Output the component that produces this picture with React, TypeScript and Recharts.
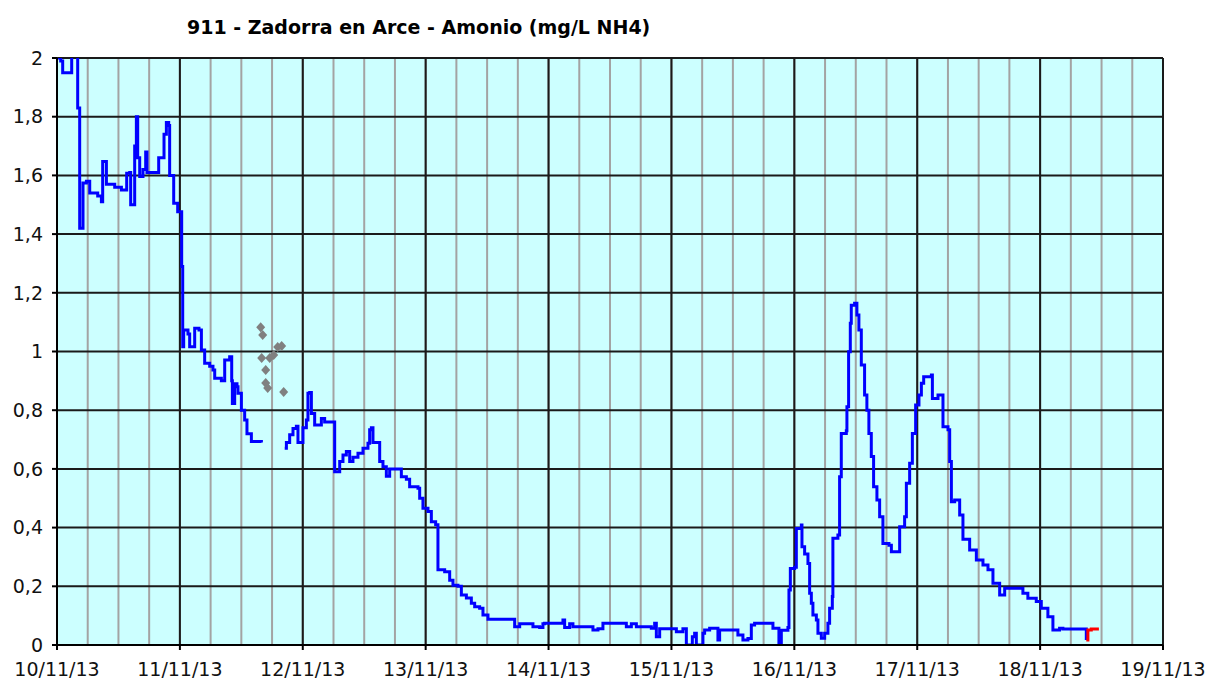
import React from "react";
import {
  ComposedChart,
  Line,
  Scatter,
  XAxis,
  YAxis,
  CartesianGrid,
} from "recharts";

// hours since 10/11/13 00:00
const dayTicks = [0, 24, 48, 72, 96, 120, 144, 168, 192, 216];
const dayLabels = [
  "10/11/13",
  "11/11/13",
  "12/11/13",
  "13/11/13",
  "14/11/13",
  "15/11/13",
  "16/11/13",
  "17/11/13",
  "18/11/13",
  "19/11/13",
];
const valueTicks = [0, 0.2, 0.4, 0.6, 0.8, 1, 1.2, 1.4, 1.6, 1.8, 2];
// 6-hourly grid
const quarterDayTicks = [
  0, 6, 12, 18, 24, 30, 36, 42, 48, 54, 60, 66, 72, 78, 84, 90, 96, 102, 108,
  114, 120, 126, 132, 138, 144, 150, 156, 162, 168, 174, 180, 186, 192, 198,
  204, 210, 216,
];

// [hour, mg/L NH4]
const ammoniumFirst: [number, number][] = [
  [0.0, 2.0], [0.33, 2.01], [0.72, 1.99], [1.11, 1.95], [2.68, 1.95],
  [2.87, 2.3], [3.94, 2.3], [4.04, 1.83], [4.24, 1.83], [4.43, 1.42],
  [4.63, 1.42], [5.08, 1.574], [5.74, 1.58], [6.39, 1.54], [7.36, 1.54],
  [7.95, 1.53], [8.67, 1.51], [8.92, 1.647], [9.45, 1.647], [9.65, 1.57],
  [11.27, 1.56], [12.58, 1.55], [13.61, 1.607], [14.2, 1.61], [14.39, 1.5],
  [14.78, 1.5], [15.17, 1.7], [15.5, 1.8], [15.76, 1.66], [16.15, 1.596],
  [16.48, 1.596], [16.79, 1.62], [17.32, 1.68], [17.57, 1.61], [19.41, 1.61],
  [19.86, 1.66], [20.64, 1.66], [20.9, 1.74], [21.36, 1.78], [21.81, 1.77],
  [22.0, 1.6], [22.59, 1.6], [22.79, 1.505], [23.32, 1.505], [23.57, 1.476],
  [24.29, 1.476], [24.35, 1.29], [24.55, 1.016], [24.74, 1.073], [25.33, 1.073],
  [25.58, 1.06], [25.91, 1.016], [26.5, 1.016], [26.89, 1.079], [27.73, 1.073],
  [28.2, 1.005], [28.84, 0.96], [29.82, 0.95], [30.46, 0.937], [30.8, 0.909],
  [32.1, 0.9], [32.75, 0.971], [33.72, 0.982], [34.12, 0.9], [34.25, 0.823],
  [34.7, 0.89], [35.15, 0.88], [35.35, 0.858], [36.01, 0.8], [36.65, 0.767],
  [37.1, 0.72], [37.96, 0.693], [39.92, 0.69],
];

const ammoniumSecond: [number, number][] = [
  [44.47, 0.67], [44.8, 0.69], [45.44, 0.716], [46.09, 0.738], [46.75, 0.745],
  [47.06, 0.69], [47.73, 0.69], [48.04, 0.74], [48.7, 0.767], [49.01, 0.858],
  [49.35, 0.86], [49.68, 0.789], [50.32, 0.75], [51.3, 0.75], [51.63, 0.772],
  [52.27, 0.76], [53.9, 0.76], [54.23, 0.59], [54.87, 0.59], [55.21, 0.625],
  [55.85, 0.647], [56.51, 0.659], [57.16, 0.625], [57.8, 0.64], [58.78, 0.653],
  [59.76, 0.67], [60.73, 0.687], [61.06, 0.733], [61.4, 0.74], [61.71, 0.69],
  [62.69, 0.69], [63.02, 0.625], [63.66, 0.607], [64.32, 0.575], [64.97, 0.6],
  [66.59, 0.6], [67.25, 0.573], [68.23, 0.565], [68.87, 0.539], [70.5, 0.534],
  [70.83, 0.5], [71.47, 0.466], [72.45, 0.455], [73.11, 0.42], [73.95, 0.41],
  [74.4, 0.256], [75.71, 0.25], [76.69, 0.221], [77.33, 0.204], [78.31, 0.2],
  [78.97, 0.17], [79.95, 0.16], [80.92, 0.142], [81.57, 0.13], [82.54, 0.125],
  [83.19, 0.102], [84.17, 0.0875], [88.4, 0.0875], [89.38, 0.062], [90.36, 0.072],
  [92.31, 0.072], [92.95, 0.062], [94.26, 0.06], [94.9, 0.072], [95.23, 0.074],
  [98.5, 0.074], [98.81, 0.085], [99.14, 0.06], [100.12, 0.072], [100.76, 0.062],
  [104.02, 0.062], [104.67, 0.051], [105.65, 0.055], [106.62, 0.074], [110.53, 0.074],
  [111.19, 0.062], [112.17, 0.072], [113.15, 0.062], [116.07, 0.057], [116.72, 0.074],
  [117.05, 0.028], [117.7, 0.055], [120.29, 0.055], [120.96, 0.045], [122.24, 0.055],
  [122.91, 0.0], [123.55, 0.0], [124.08, 0.028], [124.53, 0.04], [124.86, 0.0],
  [125.5, 0.0], [126.15, 0.04], [126.48, 0.051], [127.46, 0.057], [128.77, 0.057],
  [129.08, 0.017], [129.41, 0.051], [132.67, 0.051], [132.98, 0.034], [133.96, 0.017],
  [134.94, 0.022], [135.6, 0.068], [136.24, 0.074], [139.17, 0.074], [139.82, 0.057],
  [140.79, 0.057], [140.99, 0.0], [141.46, 0.05], [142.75, 0.06], [142.95, 0.187],
  [143.22, 0.261], [144.06, 0.265], [144.39, 0.397], [145.37, 0.409], [145.49, 0.335],
  [146.01, 0.31], [146.66, 0.278], [146.99, 0.176], [147.32, 0.142], [147.63, 0.102],
  [148.3, 0.085], [148.61, 0.04], [149.27, 0.023], [149.92, 0.04], [150.56, 0.074],
  [150.89, 0.125], [151.42, 0.165], [151.53, 0.364], [152.51, 0.375], [152.84, 0.573],
  [153.17, 0.721], [154.15, 0.73], [154.27, 0.812], [154.6, 0.999], [154.93, 1.096],
  [155.12, 1.158], [155.77, 1.164], [156.22, 1.124], [156.61, 1.073], [157.08, 0.954],
  [157.72, 0.852], [158.17, 0.8], [158.56, 0.721], [159.03, 0.642], [159.48, 0.539],
  [160.13, 0.494], [160.66, 0.437], [161.3, 0.346], [162.48, 0.34], [162.95, 0.318],
  [164.04, 0.318], [164.57, 0.403], [165.54, 0.437], [165.88, 0.551], [166.52, 0.619],
  [167.05, 0.721], [167.69, 0.818], [168.34, 0.852], [168.81, 0.892], [169.26, 0.914],
  [170.77, 0.92], [170.96, 0.84], [171.74, 0.84], [172.06, 0.852], [172.72, 0.852],
  [173.03, 0.744], [174.01, 0.733], [174.34, 0.625], [174.67, 0.488], [175.31, 0.494],
  [176.29, 0.443], [176.93, 0.36], [178.24, 0.324], [179.55, 0.29], [180.84, 0.273],
  [181.82, 0.256], [182.79, 0.21], [184.1, 0.17], [185.08, 0.193], [187.66, 0.193],
  [188.64, 0.176], [189.61, 0.159], [191.25, 0.148], [192.23, 0.125], [193.52, 0.096],
  [194.5, 0.051], [195.8, 0.057], [196.45, 0.0545], [200.68, 0.0545], [201.02, 0.017],
];

const ammoniumLatest: [number, number][] = [
  [201.02, 0.017], [201.33, 0.051], [201.99, 0.0545], [203.48, 0.0545],
];

const labSamples: [number, number][] = [
  [39.78, 1.083], [40.17, 1.056], [39.97, 0.978], [40.76, 0.937], [40.76, 0.893],
  [41.15, 0.876], [41.54, 0.978], [42.32, 0.988], [43.1, 1.015], [43.88, 1.019],
  [44.27, 0.862],
];

const toRows = (pts: [number, number][]) => pts.map(([h, v]) => ({ h, v }));

const FONT = "'DejaVu Sans', Verdana, sans-serif";

function Diamond(props: any) {
  const { cx, cy } = props;
  if (cx == null || cy == null) return null;
  return (
    <polygon
      points={`${cx},${cy - 5} ${cx + 4.5},${cy} ${cx},${cy + 5} ${cx - 4.5},${cy}`}
      fill="#808080"
    />
  );
}

export default function App() {
  return (
    <div
      style={{
        position: "absolute",
        left: 0,
        top: 0,
        width: 1209,
        height: 679,
        background: "#fff",
      }}
    >
      <div
        style={{
          position: "absolute",
          left: 187,
          top: 16,
          whiteSpace: "nowrap",
          fontFamily: FONT,
          fontWeight: "bold",
          fontSize: 19,
          color: "#000",
          lineHeight: "22px",
        }}
      >
        911 - Zadorra en Arce - Amonio (mg/L NH4)
      </div>
      <ComposedChart
        width={1209}
        height={679}
        margin={{ top: 58, right: 46, bottom: 0, left: 0 }}
        style={{ position: "absolute", left: 0, top: 0 }}
      >
        <XAxis
          dataKey="h"
          type="number"
          domain={[0, 216]}
          ticks={dayTicks}
          tickFormatter={(v: number) => dayLabels[Math.round(v / 24)]}
          height={34}
          tickSize={5}
          tickMargin={13}
          axisLine={{ stroke: "#000", strokeWidth: 2 }}
          tickLine={{ stroke: "#000", strokeWidth: 2 }}
          tick={{ fontSize: 19, fill: "#111", fontFamily: FONT }}
          interval={0}
        />
        <YAxis
          type="number"
          domain={[0, 2]}
          allowDataOverflow
          ticks={valueTicks}
          tickFormatter={(v: number) => String(v).replace(".", ",")}
          width={57}
          tickSize={5}
          tickMargin={9}
          axisLine={{ stroke: "#000", strokeWidth: 2 }}
          tickLine={{ stroke: "#000", strokeWidth: 2 }}
          tick={{ fontSize: 19, fill: "#111", fontFamily: FONT }}
          interval={0}
        />
        <CartesianGrid
          horizontal={false}
          verticalValues={quarterDayTicks}
          stroke="#a3a3a3"
          strokeWidth={2}
          fill="#CCFFFF"
          fillOpacity={1}
        />
        <CartesianGrid vertical={false} stroke="#1a1a1a" strokeWidth={2} />
        <CartesianGrid horizontal={false} stroke="#1a1a1a" strokeWidth={2} />
        <Scatter
          data={toRows(labSamples)}
          dataKey="v"
          shape={<Diamond />}
          isAnimationActive={false}
        />
        <Line
          data={toRows(ammoniumFirst)}
          dataKey="v"
          type="stepAfter"
          stroke="#0000FF"
          strokeWidth={3}
          dot={false}
          isAnimationActive={false}
        />
        <Line
          data={toRows(ammoniumSecond)}
          dataKey="v"
          type="stepAfter"
          stroke="#0000FF"
          strokeWidth={3}
          dot={false}
          isAnimationActive={false}
        />
        <Line
          data={toRows(ammoniumLatest)}
          dataKey="v"
          type="stepAfter"
          stroke="#FF0000"
          strokeWidth={3}
          dot={false}
          isAnimationActive={false}
        />
      </ComposedChart>
    </div>
  );
}
